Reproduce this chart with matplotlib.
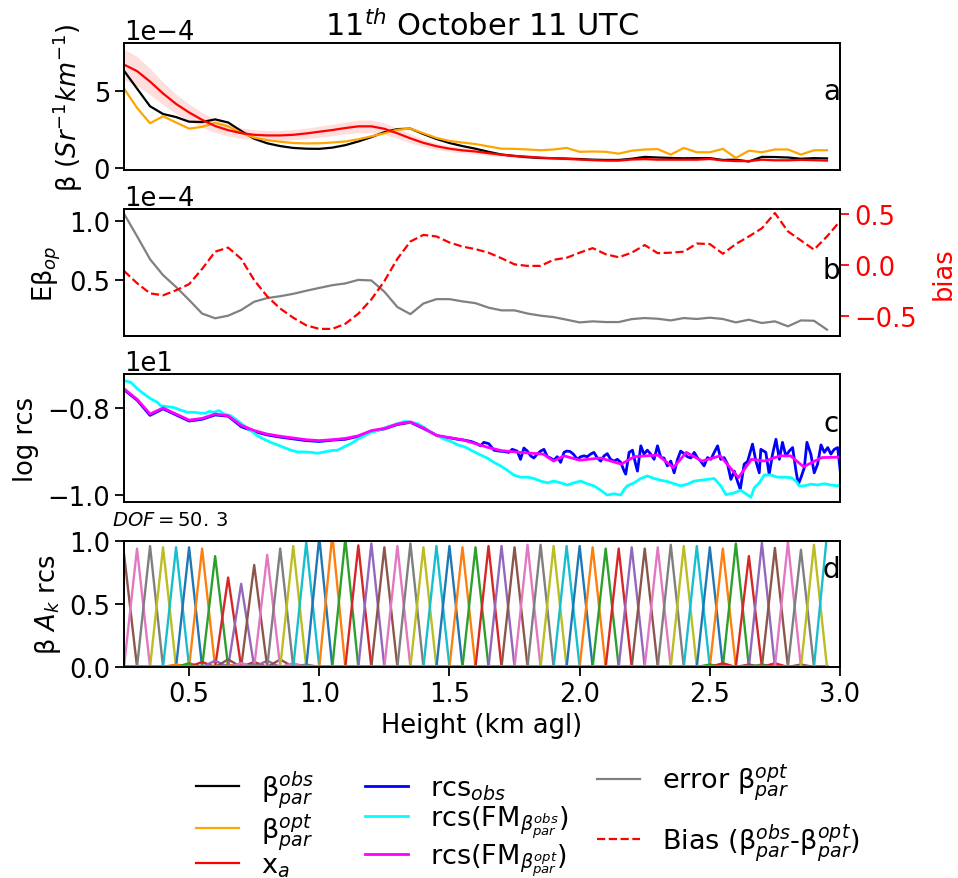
import numpy as np
import matplotlib
matplotlib.use("Agg")
import matplotlib.pyplot as plt

# ---------------- data ----------------
h_grid = [0.25, 0.30, 0.35, 0.40, 0.45, 0.50, 0.55, 0.60, 0.65, 0.70,
          0.75, 0.80, 0.85, 0.90, 0.95, 1.00, 1.05, 1.10, 1.15, 1.20,
          1.25, 1.30, 1.35, 1.40, 1.45, 1.50, 1.55, 1.60, 1.65, 1.70,
          1.75, 1.80, 1.85, 1.90, 1.95, 2.00, 2.05, 2.10, 2.15, 2.20,
          2.25, 2.30, 2.35, 2.40, 2.45, 2.50, 2.55, 2.60, 2.65, 2.70,
          2.75, 2.80, 2.85, 2.90, 2.95]

# beta values in units of 1e-4 Sr^-1 km^-1
beta_obs = [6.3, 5.15, 4.0, 3.5, 3.3, 3.0, 2.98, 3.15, 2.95, 2.4,
            1.9, 1.6, 1.42, 1.3, 1.25, 1.24, 1.32, 1.48, 1.72, 2.0,
            2.32, 2.52, 2.55, 2.2, 1.88, 1.62, 1.42, 1.25, 1.05, 0.87,
            0.78, 0.70, 0.65, 0.63, 0.61, 0.58, 0.54, 0.52, 0.52, 0.60,
            0.72, 0.68, 0.65, 0.63, 0.64, 0.64, 0.52, 0.54, 0.42, 0.72,
            0.71, 0.68, 0.60, 0.64, 0.62]
beta_opt = [5.15, 3.9, 2.9, 3.35, 2.95, 2.55, 2.67, 2.92, 2.7, 2.28,
            1.97, 1.8, 1.7, 1.62, 1.59, 1.6, 1.65, 1.72, 1.86, 2.05,
            2.25, 2.48, 2.55, 2.25, 1.95, 1.75, 1.65, 1.55, 1.4, 1.25,
            1.24, 1.2, 1.15, 1.2, 1.3, 1.05, 1.07, 1.05, 0.93, 1.12,
            1.2, 1.22, 0.87, 1.3, 1.02, 1.02, 1.24, 0.65, 1.12, 1.02,
            1.2, 1.2, 0.87, 1.15, 1.15]
x_a = [6.7, 6.28, 5.6, 4.83, 4.15, 3.6, 3.12, 2.72, 2.45, 2.26,
       2.15, 2.11, 2.11, 2.15, 2.24, 2.35, 2.46, 2.59, 2.7, 2.7,
       2.54, 2.25, 1.92, 1.63, 1.41, 1.25, 1.14, 1.07, 0.96, 0.86,
       0.78, 0.73, 0.67, 0.63, 0.59, 0.55, 0.51, 0.48, 0.48, 0.55,
       0.58, 0.54, 0.54, 0.54, 0.54, 0.59, 0.49, 0.45, 0.45, 0.54,
       0.50, 0.50, 0.53, 0.51, 0.48]
x_a_err = [1.0, 0.95, 0.85, 0.73, 0.63, 0.55, 0.47, 0.41, 0.37, 0.34,
           0.33, 0.32, 0.32, 0.33, 0.34, 0.36, 0.37, 0.39, 0.41, 0.41,
           0.38, 0.34, 0.29, 0.25, 0.21, 0.19, 0.17, 0.16, 0.15, 0.13,
           0.12, 0.11, 0.10, 0.095, 0.09, 0.085, 0.08, 0.075, 0.075, 0.08,
           0.085, 0.08, 0.08, 0.08, 0.08, 0.085, 0.075, 0.07, 0.07, 0.08,
           0.075, 0.075, 0.08, 0.075, 0.07]

# error of beta_opt in units of 1e-4
err_opt = [1.06, 0.87, 0.675, 0.54, 0.44, 0.33, 0.215, 0.175, 0.197, 0.245,
           0.315, 0.346, 0.362, 0.382, 0.408, 0.432, 0.455, 0.47, 0.50, 0.495,
           0.40, 0.27, 0.21, 0.30, 0.337, 0.337, 0.318, 0.303, 0.265, 0.242,
           0.242, 0.215, 0.197, 0.185, 0.163, 0.140, 0.149, 0.143, 0.143, 0.168,
           0.177, 0.171, 0.157, 0.177, 0.169, 0.180, 0.169, 0.140, 0.163, 0.135,
           0.149, 0.107, 0.157, 0.154, 0.079]

h_bias = [0.25, 0.30, 0.35, 0.40, 0.45, 0.50, 0.55, 0.60, 0.65, 0.70,
          0.75, 0.80, 0.85, 0.90, 0.95, 1.00, 1.05, 1.10, 1.15, 1.20,
          1.25, 1.30, 1.35, 1.40, 1.45, 1.50, 1.55, 1.60, 1.65, 1.70,
          1.75, 1.80, 1.85, 1.90, 1.95, 2.00, 2.05, 2.10, 2.15, 2.20,
          2.25, 2.30, 2.35, 2.40, 2.45, 2.50, 2.55, 2.60, 2.65, 2.70,
          2.75, 2.80, 2.85, 2.90, 2.95, 3.00]
bias = [-0.06, -0.18, -0.28, -0.30, -0.25, -0.19, -0.04, 0.13, 0.17, 0.06,
        -0.15, -0.31, -0.43, -0.52, -0.595, -0.63, -0.63, -0.58, -0.48, -0.34,
        -0.16, 0.06, 0.23, 0.295, 0.28, 0.22, 0.18, 0.155, 0.12, 0.065,
        0.005, -0.01, -0.01, 0.05, 0.07, 0.12, 0.165, 0.105, 0.075, 0.12,
        0.195, 0.115, 0.12, 0.13, 0.21, 0.205, 0.11, 0.205, 0.28, 0.36,
        0.51, 0.33, 0.24, 0.15, 0.28, 0.43]

# range-corrected signal (log), rcs_obs
h_rcs_obs = [0.25, 0.30, 0.35, 0.40, 0.45, 0.50, 0.55, 0.60, 0.65, 0.70,
             0.75, 0.80, 0.85, 0.90, 0.95, 1.00, 1.05, 1.10, 1.15, 1.20,
             1.25, 1.30, 1.35, 1.40, 1.455, 1.48, 1.505, 1.532, 1.558, 1.583,
             1.605, 1.619, 1.632, 1.651, 1.671, 1.690, 1.709, 1.728, 1.741, 1.760,
             1.773, 1.786, 1.799, 1.812, 1.824, 1.837, 1.850, 1.863, 1.876, 1.888,
             1.901, 1.914, 1.927, 1.940, 1.950, 1.963, 1.976, 1.991, 2.004, 2.017,
             2.029, 2.042, 2.055, 2.068, 2.081, 2.094, 2.106, 2.119, 2.132, 2.145,
             2.158, 2.171, 2.177, 2.190, 2.203, 2.215, 2.222, 2.235, 2.247, 2.260,
             2.273, 2.286, 2.299, 2.312, 2.324, 2.337, 2.350, 2.363, 2.376, 2.388,
             2.401, 2.414, 2.427, 2.440, 2.453, 2.465, 2.478, 2.491, 2.504, 2.517,
             2.530, 2.542, 2.555, 2.568, 2.581, 2.594, 2.606, 2.617, 2.632, 2.645,
             2.664, 2.677, 2.690, 2.696, 2.715, 2.728, 2.741, 2.754, 2.767, 2.779,
             2.792, 2.805, 2.818, 2.831, 2.840, 2.850, 2.863, 2.873, 2.888, 2.901,
             2.914, 2.927, 2.940, 2.953, 2.965, 2.978, 2.991, 3.001]
rcs_obs = [-7.58, -7.82, -8.17, -8.02, -8.16, -8.30, -8.26, -8.16, -8.19, -8.43,
           -8.54, -8.62, -8.67, -8.71, -8.75, -8.77, -8.74, -8.72, -8.65, -8.54,
           -8.48, -8.38, -8.33, -8.47, -8.64, -8.67, -8.69, -8.72, -8.74, -8.77,
           -8.82, -8.87, -8.79, -8.82, -8.97, -8.99, -9.00, -9.02, -8.95, -8.99,
           -9.18, -8.92, -8.99, -9.10, -9.15, -9.06, -8.99, -8.95, -9.12, -9.15,
           -9.20, -9.12, -9.25, -9.02, -8.99, -9.00, -9.06, -9.18, -9.12, -9.10,
           -9.12, -9.06, -9.02, -9.15, -9.22, -9.10, -9.05, -9.18, -9.22, -9.18,
           -9.25, -9.45, -9.52, -9.02, -8.97, -9.29, -9.45, -8.87, -9.06, -8.97,
           -9.06, -9.18, -8.87, -9.14, -9.15, -9.33, -9.22, -9.49, -9.18, -8.99,
           -9.05, -9.12, -9.15, -9.02, -9.15, -9.22, -9.33, -9.14, -9.18, -9.02,
           -8.87, -9.18, -9.14, -9.29, -9.64, -9.45, -9.68, -9.87, -9.29, -9.23,
           -8.83, -9.22, -9.49, -8.95, -9.02, -9.52, -9.06, -8.72, -9.18, -8.79,
           -9.10, -8.99, -8.91, -9.45, -9.75, -9.60, -9.37, -8.79, -9.06, -9.49,
           -9.29, -8.85, -9.02, -8.91, -9.06, -8.95, -8.91, -9.45]

# forward model with beta_obs (cyan)
h_rcs_fm_obs = [0.250, 0.276, 0.301, 0.327, 0.353, 0.378, 0.391, 0.417, 0.442, 0.468,
                0.494, 0.519, 0.545, 0.564, 0.577, 0.596, 0.615, 0.635, 0.660, 0.686,
                0.712, 0.737, 0.763, 0.788, 0.814, 0.840, 0.865, 0.891, 0.917, 0.942,
                0.968, 0.994, 1.019, 1.045, 1.071, 1.096, 1.122, 1.147, 1.173, 1.199,
                1.224, 1.250, 1.276, 1.301, 1.327, 1.353, 1.378, 1.404, 1.429, 1.455,
                1.481, 1.506, 1.532, 1.558, 1.583, 1.609, 1.645, 1.671, 1.696, 1.722,
                1.747, 1.773, 1.799, 1.824, 1.850, 1.876, 1.901, 1.927, 1.953, 1.978,
                2.004, 2.029, 2.055, 2.081, 2.106, 2.132, 2.158, 2.171, 2.183, 2.209,
                2.235, 2.260, 2.286, 2.312, 2.337, 2.363, 2.388, 2.414, 2.440, 2.465,
                2.491, 2.517, 2.542, 2.562, 2.594, 2.619, 2.645, 2.658, 2.671, 2.690,
                2.709, 2.735, 2.760, 2.786, 2.812, 2.831, 2.844, 2.863, 2.888, 2.914,
                2.940, 2.965, 2.991, 3.004]
rcs_fm_obs = [-7.37, -7.41, -7.56, -7.68, -7.79, -7.87, -7.95, -7.97, -7.99, -8.05,
              -8.10, -8.10, -8.12, -8.12, -8.08, -8.10, -8.06, -8.14, -8.18, -8.29,
              -8.41, -8.52, -8.64, -8.72, -8.79, -8.85, -8.91, -8.97, -9.01, -9.01,
              -9.02, -9.04, -9.01, -8.98, -8.97, -8.89, -8.82, -8.72, -8.64, -8.56,
              -8.52, -8.46, -8.41, -8.36, -8.31, -8.33, -8.36, -8.45, -8.56, -8.64,
              -8.72, -8.77, -8.85, -8.89, -8.97, -9.05, -9.15, -9.25, -9.33, -9.43,
              -9.54, -9.59, -9.59, -9.62, -9.68, -9.72, -9.68, -9.72, -9.77, -9.72,
              -9.68, -9.74, -9.79, -9.89, -10.00, -9.97, -10.00, -9.87, -9.79, -9.72,
              -9.62, -9.56, -9.62, -9.66, -9.69, -9.74, -9.79, -9.75, -9.68, -9.66,
              -9.64, -9.62, -9.79, -9.99, -9.95, -9.89, -10.00, -10.05, -9.83, -9.72,
              -9.54, -9.54, -9.59, -9.59, -9.60, -9.68, -9.79, -9.79, -9.75, -9.77,
              -9.74, -9.77, -9.79, -9.75]

# forward model with beta_opt (magenta)
h_rcs_fm_opt = [0.25, 0.30, 0.35, 0.40, 0.45, 0.50, 0.55, 0.60, 0.65, 0.70,
                0.75, 0.80, 0.85, 0.90, 0.95, 1.00, 1.05, 1.10, 1.15, 1.20,
                1.25, 1.30, 1.35, 1.40, 1.45, 1.50, 1.55, 1.60, 1.65, 1.70,
                1.77, 1.86, 1.90, 1.94, 2.00, 2.08, 2.16, 2.21, 2.30, 2.36,
                2.41, 2.47, 2.54, 2.61, 2.66, 2.71, 2.77, 2.81, 2.86, 2.93, 3.00]
rcs_fm_opt = [-7.56, -7.80, -8.14, -8.00, -8.14, -8.28, -8.24, -8.14, -8.18, -8.40,
              -8.52, -8.60, -8.65, -8.69, -8.73, -8.75, -8.73, -8.70, -8.64, -8.52,
              -8.47, -8.37, -8.32, -8.46, -8.63, -8.68, -8.73, -8.82, -8.91, -8.98,
              -9.02, -9.06, -9.22, -9.10, -9.20, -9.15, -9.29, -9.12, -9.08, -9.37,
              -9.02, -9.22, -9.10, -9.60, -9.18, -9.22, -9.10, -9.10, -9.35, -9.14, -9.13]

# averaging kernel grid and values
k_grid = [0.00, 0.05, 0.10, 0.15, 0.20, 0.25, 0.30, 0.35, 0.40, 0.45,
          0.50, 0.55, 0.60, 0.65, 0.70, 0.75, 0.80, 0.85, 0.90, 0.95,
          1.00, 1.05, 1.10, 1.15, 1.20, 1.25, 1.30, 1.35, 1.40, 1.45,
          1.50, 1.55, 1.60, 1.65, 1.70, 1.75, 1.80, 1.85, 1.90, 1.95,
          2.00, 2.05, 2.10, 2.15, 2.20, 2.25, 2.30, 2.35, 2.40, 2.45,
          2.50, 2.55, 2.60, 2.65, 2.70, 2.75, 2.80, 2.85, 2.90, 2.95]
kern_diag = [0.95, 0.95, 0.95, 0.95, 0.95, 0.90, 0.94, 0.96, 0.95, 0.95,
             0.95, 0.94, 0.88, 0.71, 0.66, 0.81, 0.89, 0.94, 0.96, 0.99,
             1.03, 1.05, 1.02, 0.965, 0.98, 0.95, 0.96, 0.98, 0.95, 0.96,
             0.96, 0.95, 0.95, 0.96, 0.96, 0.95, 0.97, 0.97, 0.96, 0.96,
             0.96, 0.95, 0.94, 0.94, 0.95, 0.94, 0.95, 0.97, 0.96, 0.96,
             0.95, 0.94, 0.98, 0.88, 0.985, 0.945, 0.99, 0.93, 0.97, 1.05]
kern_tail = [0, 0, 0, 0, 0, 0, 0, 0, 0, 0,
             0, 0.02, 0.03, 0.04, 0.05, 0.06, 0.03, 0.02, 0, 0,
             0, 0, 0, 0, 0, 0, 0, 0, 0, 0,
             0, 0, 0, 0, 0, 0, 0, 0, 0, 0,
             0, 0, 0, 0, 0, 0, 0, 0, 0, 0,
             0, 0, 0.02, 0.03, 0, 0.02, 0, 0, 0, 0]

dof_value = "50.\\,3"
title_text = r"11$^{th}$ October 11 UTC"

# ---------------- figure ----------------
FS = 18.5
LFS = 19.5
plt.rcParams.update({
    "font.family": ["DejaVu Sans"],
    "font.size": FS,
    "axes.linewidth": 1.4,
    "xtick.major.size": 6.5,
    "ytick.major.size": 6.5,
    "xtick.major.width": 1.3,
    "ytick.major.width": 1.3,
})

W, H = 958, 879
fig = plt.figure(figsize=(W / 100, H / 100), dpi=100)


def ax_at(top, bottom, left=124, right=840):
    return fig.add_axes([left / W, 1 - bottom / H, (right - left) / W, (bottom - top) / H])


ax_a = ax_at(44, 171)
ax_b = ax_at(210, 337)
ax_c = ax_at(375, 503)
ax_d = ax_at(542, 668)

hg = np.array(h_grid)
s = 1e-4

# panel a
xa = np.array(x_a) * s
xe = np.array(x_a_err) * s
ax_a.fill_between(hg, xa - xe, xa + xe, color="red", alpha=0.13, lw=0)
l_obs, = ax_a.plot(hg, np.array(beta_obs) * s, color="black", lw=1.6)
l_opt, = ax_a.plot(hg, np.array(beta_opt) * s, color="orange", lw=1.6)
l_xa, = ax_a.plot(hg, xa, color="red", lw=1.6)
ax_a.set_ylim(-0.13e-4, 8.1e-4)
ax_a.set_yticks([0, 5e-4])
ax_a.set_ylabel(r"β ($Sr^{-1}km^{-1}$)", labelpad=6)
ax_a.set_title(title_text, fontsize=22)

# panel b
l_err, = ax_b.plot(hg, np.array(err_opt) * s, color="gray", lw=1.6)
ax_b.set_ylim(0.025e-4, 1.10e-4)
ax_b.set_yticks([0.5e-4, 1.0e-4])
ax_b.set_ylabel(r"Eβ$_{op}$")
ax_b2 = ax_b.twinx()
l_bias, = ax_b2.plot(h_bias, bias, color="red", ls="--", lw=1.6)
ax_b2.set_ylim(-0.70, 0.55)
ax_b2.set_yticks([-0.5, 0.0, 0.5])
ax_b2.tick_params(axis="y", colors="red")
ax_b2.set_ylabel("bias", color="red", labelpad=10)

# panel c
l_rcs, = ax_c.plot(h_rcs_obs, rcs_obs, color="blue", lw=2)
l_fmo, = ax_c.plot(h_rcs_fm_obs, rcs_fm_obs, color="cyan", lw=2)
l_fmp, = ax_c.plot(h_rcs_fm_opt, rcs_fm_opt, color="magenta", lw=2)
ax_c.set_ylim(-10.16, -7.22)
ax_c.set_yticks([-10, -8])
ax_c.set_ylabel("log rcs", labelpad=6)

# panel d
n = len(k_grid)
A = np.zeros((n, n))
for i in range(n):
    A[i, i] = kern_diag[i]
    for j in (i - 2, i + 2):
        if 0 <= j < n:
            A[i, j] = kern_tail[i]
for i in range(n):
    ax_d.plot(k_grid, A[i], color=f"C{i % 10}", lw=1.7)
ax_d.set_ylim(0, 1.0)
ax_d.set_yticks([0, 0.5, 1.0])
ax_d.set_ylabel(r"β $A_k$ rcs")
ax_d.set_xticks([0.5, 1.0, 1.5, 2.0, 2.5, 3.0])
ax_d.set_xlabel("Height (km agl)")

for ax in (ax_a, ax_b, ax_c):
    ax.ticklabel_format(axis="y", style="sci", scilimits=(0, 0))
    ax.tick_params(axis="x", bottom=False, labelbottom=False)
for ax in (ax_a, ax_b, ax_c, ax_d):
    ax.set_xlim(0.25, 3.0)

for ax, lab, yf in ((ax_a, "a", 0.62), (ax_b, "b", 0.52), (ax_c, "c", 0.62), (ax_d, "d", 0.78)):
    ax.text(0.988, yf, lab, transform=ax.transAxes, fontsize=20,
            ha="center", va="center", zorder=10)

fig.text(112 / W, 1 - 521 / H, r"$DOF = " + dof_value + "$", fontsize=14,
         ha="left", va="center")

# legends
leg1 = fig.legend([l_obs, l_opt, l_xa, l_rcs, l_fmo, l_fmp],
                  [r"β$^{obs}_{par}$", r"β$^{opt}_{par}$", r"x$_a$",
                   r"rcs$_{obs}$", r"rcs(FM$_{\beta^{obs}_{par}}$)",
                   r"rcs(FM$_{\beta^{opt}_{par}}$)"],
                  ncol=2, frameon=False, loc="upper left",
                  bbox_to_anchor=(185 / W, 1 - 758 / H), borderaxespad=0,
                  fontsize=LFS, labelspacing=0.05, handlelength=1.6,
                  columnspacing=1.9)
leg2 = fig.legend([l_err, l_bias],
                  [r"error β$^{opt}_{par}$",
                   r"Bias (β$^{obs}_{par}$-β$^{opt}_{par}$)"],
                  ncol=1, frameon=False, loc="upper left",
                  bbox_to_anchor=(586 / W, 1 - 752 / H), borderaxespad=0,
                  fontsize=LFS, labelspacing=0.7, handlelength=1.6)

fig.savefig("out.png", dpi=100)
